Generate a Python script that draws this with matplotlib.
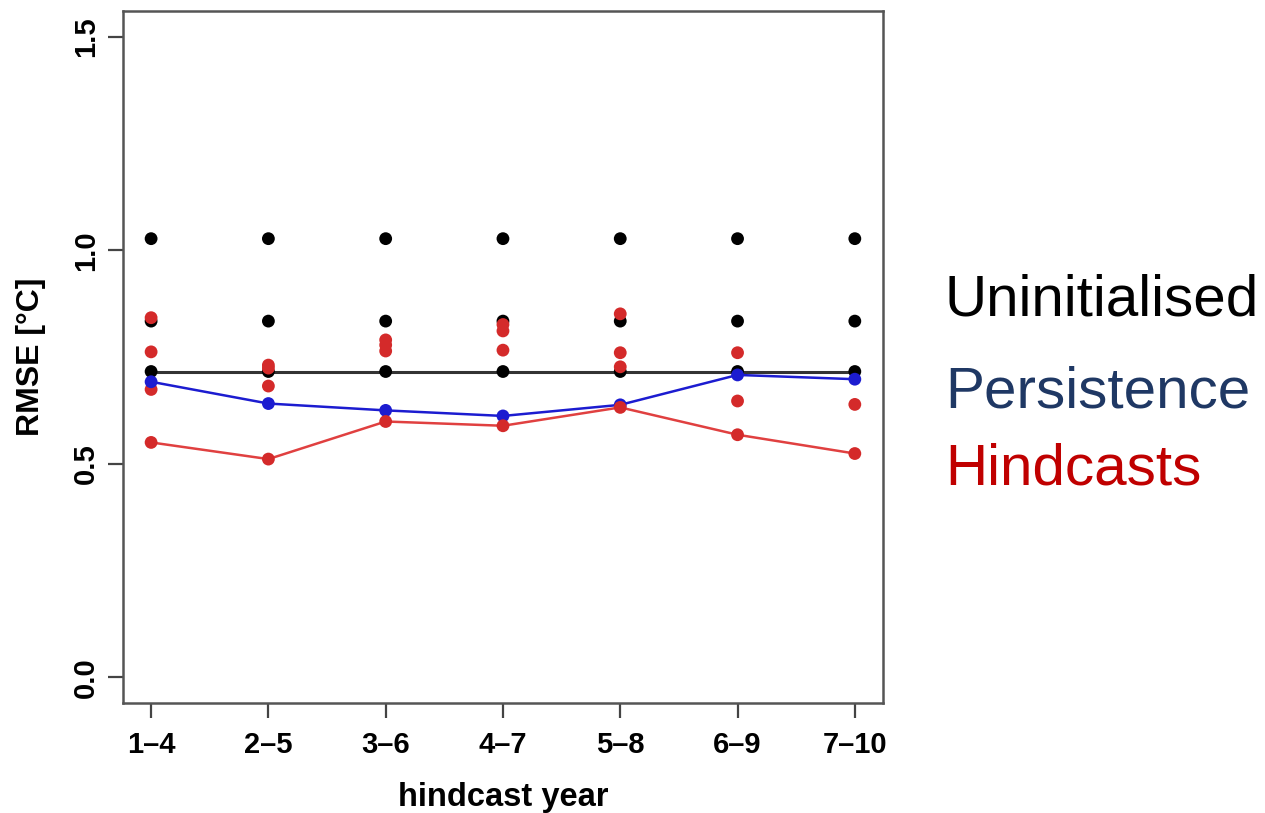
import matplotlib
matplotlib.use("Agg")
import matplotlib.pyplot as plt

categories = ["1\u20134", "2\u20135", "3\u20136", "4\u20137", "5\u20138", "6\u20139", "7\u201310"]
hindcast_mean = [0.550, 0.511, 0.599, 0.589, 0.632, 0.568, 0.524]
persistence = [0.692, 0.641, 0.625, 0.612, 0.638, 0.708, 0.698]
uninit_levels = [1.027, 0.834, 0.716]
uninit_line = 0.716
hindcast_members = [
    [0.842, 0.762, 0.674],
    [0.731, 0.724, 0.682],
    [0.790, 0.778, 0.764],
    [0.826, 0.811, 0.766],
    [0.851, 0.760, 0.727],
    [0.760, 0.647],
    [0.639],
]
yticks = [0.0, 0.5, 1.0, 1.5]
ytick_labels = ["0.0", "0.5", "1.0", "1.5"]

plt.rcParams['font.family'] = ['Liberation Sans', 'DejaVu Sans']

fig = plt.figure(figsize=(12.65, 8.13), dpi=100)
ax = fig.add_axes([0.0972, 0.1353, 0.6008, 0.8512])

x = list(range(1, len(categories) + 1))
red = "#d42a2a"
blue = "#1c1cd0"
msize = 85

# uninitialised
ax.plot([x[0], x[-1]], [uninit_line, uninit_line], color="#333333", lw=2.2, zorder=2)
for lev in uninit_levels:
    ax.scatter(x, [lev] * len(x), s=msize, color="black", zorder=3, edgecolors="none")

# hindcast members
for xi, vals in zip(x, hindcast_members):
    ax.scatter([xi] * len(vals), vals, s=msize, color=red, zorder=4, edgecolors="none")

# persistence
ax.plot(x, persistence, color=blue, lw=1.8, zorder=5)
ax.scatter(x, persistence, s=msize, color=blue, zorder=6, edgecolors="none")

# hindcasts mean
ax.plot(x, hindcast_mean, color="#e04040", lw=1.8, zorder=5)
ax.scatter(x, hindcast_mean, s=msize, color=red, zorder=6, edgecolors="none")

ax.set_xlim(0.76, 7.24)
ax.set_ylim(-0.06, 1.56)
ax.set_xticks(x)
ax.set_xticklabels(categories, fontsize=21, fontweight="bold")
ax.set_yticks(yticks)
ax.set_yticklabels(ytick_labels, fontsize=21, fontweight="bold", rotation=90, va="center")
ax.tick_params(axis="both", direction="out", length=10.5, width=1.6, color="#444444")
ax.tick_params(axis="x", pad=10)
ax.tick_params(axis="y", pad=6)
for sp in ax.spines.values():
    sp.set_color("#555555")
    sp.set_linewidth(1.8)

ax.set_xlabel("hindcast year", fontsize=23.5, fontweight="bold", labelpad=16)
ax.set_ylabel("RMSE [\u00b0C]", fontsize=23, fontweight="bold", labelpad=19)

fig.text(0.747, 0.630, "Uninitialised", fontsize=42, color="black", va="center", ha="left")
fig.text(0.747, 0.517, "Persistence", fontsize=42, color="#1f3864", va="center", ha="left")
fig.text(0.747, 0.423, "Hindcasts", fontsize=42, color="#c00000", va="center", ha="left")

fig.savefig("out.png", dpi=100)
